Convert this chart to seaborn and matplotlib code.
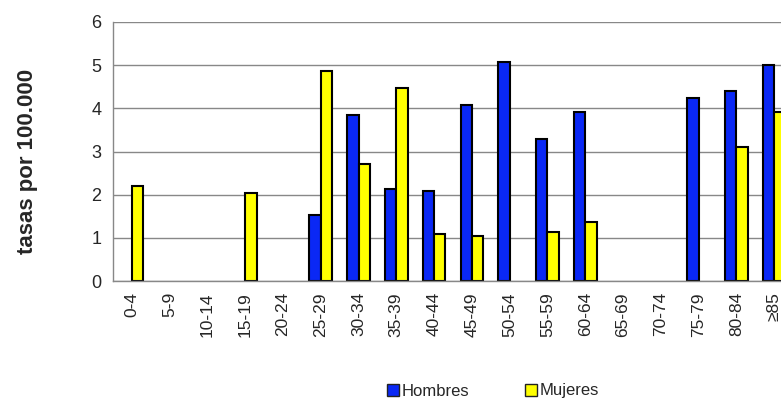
import numpy as np
import pandas as pd
import matplotlib
matplotlib.use("Agg")
import matplotlib.pyplot as plt
import seaborn as sns
from matplotlib.patches import Patch

# datos
grupos = ["0-4", "5-9", "10-14", "15-19", "20-24", "25-29", "30-34", "35-39",
          "40-44", "45-49", "50-54", "55-59", "60-64", "65-69", "70-74",
          "75-79", "80-84", "≥85"]
hombres = [0, 0, 0, 0, 0, 1.54, 3.84, 2.13, 2.08, 4.07, 5.07, 3.30, 3.92,
           0, 0, 4.23, 4.41, 5.01]
mujeres = [2.21, 0, 0, 2.03, 0, 4.86, 2.71, 4.48, 1.09, 1.04, 0, 1.14, 1.37,
           0, 0, 0, 3.11, 3.92]
series = ["Hombres", "Mujeres"]
colores = ["#0A28F5", "#FFFF00"]

df = pd.DataFrame({
    "grupo": grupos * 2,
    "sexo": ["Hombres"] * len(grupos) + ["Mujeres"] * len(grupos),
    "tasa": hombres + mujeres,
})
# los ceros no se dibujan
df.loc[df["tasa"] == 0, "tasa"] = np.nan

sns.set_style("white")
plt.rcParams["font.family"] = ["Liberation Sans", "DejaVu Sans"]

fig = plt.figure(figsize=(7.81, 4.01), dpi=100)
# el grafico original se corta por la derecha
ax = fig.add_axes([113 / 781, 1 - 281 / 401, 680 / 781, 259 / 401])

sns.barplot(data=df, x="grupo", y="tasa", hue="sexo", order=grupos,
            hue_order=series, palette=colores, saturation=1, width=0.6,
            edgecolor="black", linewidth=1.5, errorbar=None, legend=False, ax=ax)

ax.set_ylim(0, 6)
ax.set_xlim(-0.5, len(grupos) - 0.5)
ax.set_yticks(range(0, 7))
ax.yaxis.grid(True, color="#888888", linewidth=1)
ax.set_axisbelow(True)
for s in ["top", "right"]:
    ax.spines[s].set_visible(False)
for s in ["left", "bottom"]:
    ax.spines[s].set_color("#888888")
    ax.spines[s].set_linewidth(1)

ax.set_xticks(range(len(grupos)))
ax.set_xticklabels(grupos, rotation=90, fontsize=12.5)
ax.set_xticks(np.arange(-0.5, len(grupos), 1), minor=True)
ax.tick_params(axis="x", which="major", length=0, pad=8)
ax.tick_params(axis="x", which="minor", length=5, color="#888888", width=1)
ax.tick_params(axis="y", length=5, color="#888888", width=1, labelsize=13)

ax.set_xlabel("")
ax.set_ylabel("tasas por 100.000", fontsize=16, fontweight="bold")
ax.yaxis.set_label_coords(-0.11, 0.463)

handles = [Patch(facecolor=c, edgecolor="#222222", linewidth=1) for c in colores]
fig.legend(handles, series, loc="center", bbox_to_anchor=(493 / 781, 1 - 391 / 401),
           ncol=2, frameon=False, fontsize=12, handlelength=0.7, handleheight=0.7,
           handletextpad=0.15, columnspacing=3.4, borderpad=0)

fig.savefig("out.png", dpi=100)
